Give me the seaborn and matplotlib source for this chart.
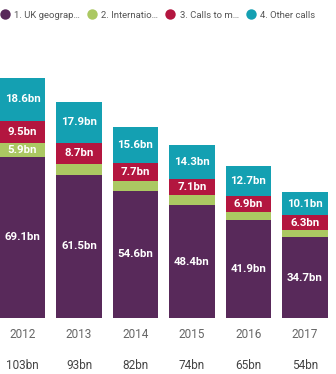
import matplotlib
matplotlib.use("Agg")
import matplotlib.pyplot as plt
from matplotlib.lines import Line2D
import numpy as np
import pandas as pd
import seaborn as sns

years = ["2012", "2013", "2014", "2015", "2016", "2017"]
uk_geographic = [69.1, 61.5, 54.6, 48.4, 41.9, 34.7]
international = [5.9, 4.8, 4.2, 4.3, 3.6, 3.0]
calls_to_mobiles = [9.5, 8.7, 7.7, 7.1, 6.9, 6.3]
other_calls = [18.6, 17.9, 15.6, 14.3, 12.7, 10.1]
totals = ["103bn", "93bn", "82bn", "74bn", "65bn", "54bn"]
series_names = ["1. UK geograp\u2026", "2. Internatio\u2026", "3. Calls to m\u2026", "4. Other calls"]
labelled = [
    [True] * 6,
    [True, False, False, False, False, False],
    [True] * 6,
    [True] * 6,
]

colors = ["#58295a", "#abc862", "#b3163f", "#14a0b2"]

sns.set_theme(style="white")
plt.rcParams["font.family"] = ["Roboto", "DejaVu Sans"]

fig = plt.figure(figsize=(3.36, 3.74), dpi=100)
W, H = 336, 374
px_per_unit = 2.33
bottom_px, top_px = 318, 40
ax = fig.add_axes([0, (H - bottom_px) / H, 1, (bottom_px - top_px) / H])

layers = np.array([uk_geographic, international, calls_to_mobiles, other_calls])
cum = np.cumsum(layers, axis=0)

# Stack by drawing cumulative totals from the tallest layer down
for i in range(3, -1, -1):
    df = pd.DataFrame({"year": years, "value": cum[i]})
    sns.barplot(data=df, x="year", y="value", color=colors[i], width=0.8,
                saturation=1, ax=ax, linewidth=0, errorbar=None)

for i in range(4):
    for j in range(6):
        if not labelled[i][j]:
            continue
        base = cum[i][j] - layers[i][j]
        ax.text(j, base + layers[i][j] / 2, f"{layers[i][j]:.1f}bn",
                ha="center", va="center", color="white", fontsize=8.2,
                fontweight="bold")

pitch = 56.5
first_center = 22.5
ax.set_xlim(-first_center / pitch, (W - first_center) / pitch)
ax.set_ylim(0, (bottom_px - top_px) / px_per_unit)
ax.set_xlabel("")
ax.set_ylabel("")
ax.set_yticks([])
ax.tick_params(axis="x", length=0, pad=7, labelsize=8.5, labelcolor="#666666")
for s in ax.spines.values():
    s.set_visible(False)

for j, t in enumerate(totals):
    ax.annotate(t, xy=(j, 0), xycoords=("data", "axes fraction"),
                xytext=(0, -34.5), textcoords="offset points",
                ha="center", va="center", fontsize=8.5, color="#444444")

handles = [Line2D([], [], marker="o", linestyle="", markersize=7.5,
                  markerfacecolor=c, markeredgewidth=0) for c in colors]
fig.legend(handles, series_names, loc="center left", bbox_to_anchor=(-0.025, 1 - 15 / H),
           ncol=4, frameon=False, fontsize=6.8, handletextpad=0.0,
           columnspacing=0.25, labelcolor="#555555", borderaxespad=0)

fig.savefig("out.png", dpi=100)
